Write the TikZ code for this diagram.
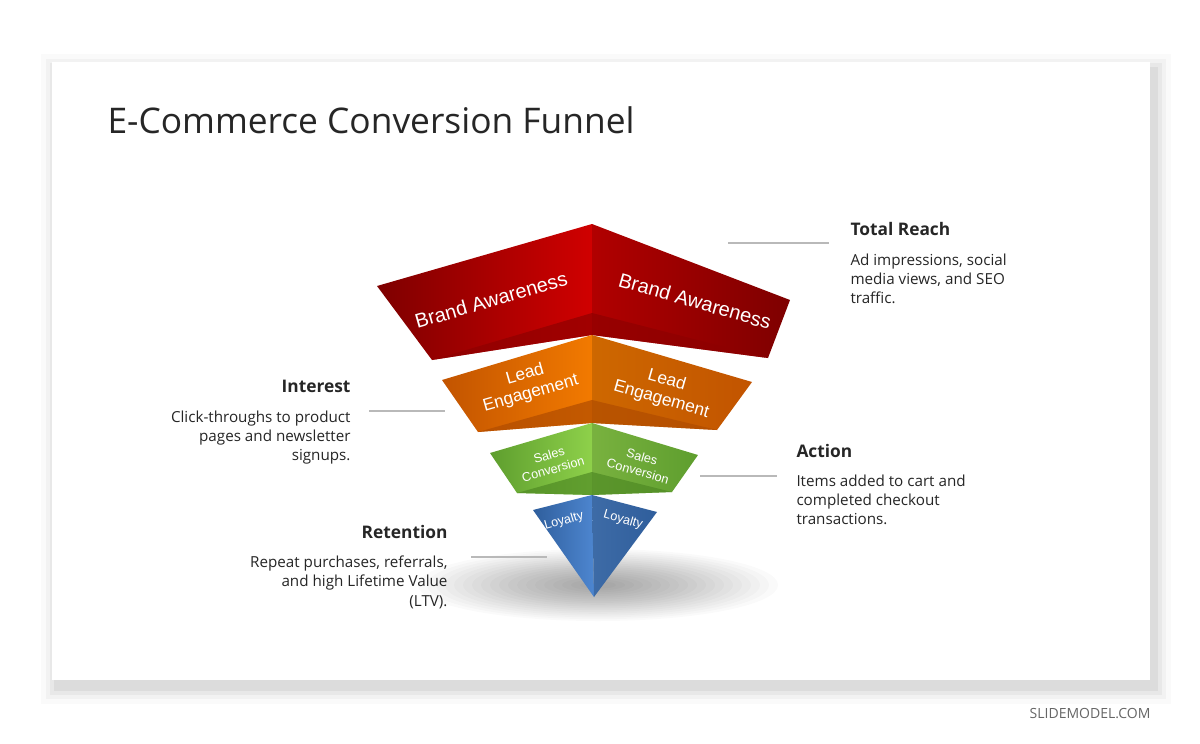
\documentclass[tikz,border=0pt]{standalone}
\usepackage{fontspec}
\setmainfont{Open Sans}
\newfontfamily\arialfont{Liberation Sans}
\usetikzlibrary{positioning}
\definecolor{rA}{HTML}{D00000}\definecolor{rB}{HTML}{7E0000}\definecolor{rS}{HTML}{8E0000}
\definecolor{oA}{HTML}{F27A00}\definecolor{oB}{HTML}{C25400}\definecolor{oS}{HTML}{B04C00}
\definecolor{gA}{HTML}{8ED14A}\definecolor{gB}{HTML}{5E9E2E}\definecolor{gS}{HTML}{4F8A24}
\definecolor{bA}{HTML}{4D86D0}\definecolor{bB}{HTML}{2F5E9C}
\definecolor{txt}{HTML}{262626}
\tikzset{every picture/.style={line width=0.75pt}}
\tikzset{
  lbl/.style={font=\arialfont, text=white, align=center, inner sep=0pt},
  head/.style={font=\fontsize{13}{16}\selectfont\bfseries, text=txt, inner sep=0pt},
  body/.style={font=\fontsize{11.4}{14.6}\selectfont, text=txt, inner sep=0pt},
  lead/.style={draw=gray!55, line width=1.5pt}
}
\begin{document}
\begin{tikzpicture}[x=0.75pt,y=0.75pt,yscale=-1]
\useasboundingbox (0,0) rectangle (1200,743);
\fill[white] (0,0) rectangle (1200,743);
%card with shadow
\foreach \d/\o in {16/0.02,11/0.03,7/0.04,3/0.05}{
  \fill[black,opacity=\o] (52-\d+5,62-\d+8) rectangle (1150+\d+5,680+\d+8);}
\fill[white] (52,62) rectangle (1150,680);
%title
\node[anchor=base west, font=\fontsize{26.5}{32}\selectfont, text=txt, inner sep=0pt] (title) at (107,133) {E-Commerce Conversion Funnel};
%shadow under funnel
\foreach \r in {120,114,...,12}{
  \fill[black,opacity=0.018] (598,585) ellipse ({\r*1.5} and {\r*0.3});}
%red tier
\shade[left color=rB, right color=rA] (377,286) -- (592,224) -- (592,335) -- (432,360) -- cycle;
\shade[left color=rA!85!black, right color=rB] (592,224) -- (790,300) -- (768,358) -- (592,335) -- cycle;
\fill[rS,opacity=0.7] (432,360) -- (592,313) -- (592,335) -- cycle;
\fill[rS,opacity=0.7] (768,358) -- (592,313) -- (592,335) -- cycle;
%orange tier
\shade[left color=oB, right color=oA] (442,380) -- (592,335) -- (592,423) -- (478,432) -- cycle;
\shade[left color=oA!85!black, right color=oB] (592,335) -- (752,382) -- (717,430) -- (592,423) -- cycle;
\fill[oS,opacity=0.7] (478,432) -- (592,400) -- (592,423) -- cycle;
\fill[oS,opacity=0.7] (717,430) -- (592,400) -- (592,423) -- cycle;
%green tier
\shade[left color=gB, right color=gA] (490,453) -- (592,423) -- (592,495) -- (517,493) -- cycle;
\shade[left color=gA!85!black, right color=gB] (592,423) -- (698,455) -- (672,492) -- (592,495) -- cycle;
\fill[gS,opacity=0.7] (517,493) -- (592,472) -- (592,495) -- cycle;
\fill[gS,opacity=0.7] (672,492) -- (592,472) -- (592,495) -- cycle;
%blue tier
\shade[left color=bB, right color=bA] (533,510) -- (592,495) -- (594,597) -- cycle;
\shade[left color=bA!80!black, right color=bB] (592,495) -- (657,512) -- (594,597) -- cycle;
%tier labels
\node[lbl, rotate=16, font=\arialfont\fontsize{15}{17}\selectfont] (redL) at (491,300) {Brand Awareness};
\node[lbl, rotate=-16, font=\arialfont\fontsize{15}{17}\selectfont] (redR) at (695,301) {Brand Awareness};
\node[lbl, rotate=16, font=\arialfont\fontsize{13}{15}\selectfont] (oraL) at (528,384) {Lead\\Engagement};
\node[lbl, rotate=-16, font=\arialfont\fontsize{13}{15}\selectfont] (oraR) at (664,390) {Lead\\Engagement};
\node[lbl, rotate=16, font=\arialfont\fontsize{9.5}{11}\selectfont] (grnL) at (551,462) {Sales\\Conversion};
\node[lbl, rotate=-16, font=\arialfont\fontsize{9.5}{11}\selectfont] (grnR) at (640,464) {Sales\\Conversion};
\node[lbl, rotate=16, font=\arialfont\fontsize{9.5}{11}\selectfont] (bluL) at (564,521) {Loyalty};
\node[lbl, rotate=-16, font=\arialfont\fontsize{9.5}{11}\selectfont] (bluR) at (623,520) {Loyalty};
%callouts
\coordinate (reachA) at (728,243); \coordinate (reachB) at (829,243);
\coordinate (intA) at (369,411); \coordinate (intB) at (445,411);
\coordinate (actA) at (700,476); \coordinate (actB) at (777,476);
\coordinate (retA) at (471,557); \coordinate (retB) at (547,557);
\draw[lead] (reachA) -- (reachB);
\draw[lead] (intA) -- (intB);
\draw[lead] (actA) -- (actB);
\draw[lead] (retA) -- (retB);
\node[head, anchor=base west] (reach) at (850,235) {Total Reach};
\node[body, anchor=north west, align=left] (reachTxt) at (850,253) {Ad impressions, social\\media views, and SEO\\traffic.};
\node[head, anchor=base east] (interest) at (351,392) {Interest};
\node[body, anchor=north east, align=right] (interestTxt) at (351,410) {Click-throughs to product\\pages and newsletter\\signups.};
\node[head, anchor=base west] (action) at (796,457) {Action};
\node[body, anchor=north west, align=left] (actionTxt) at (796,474) {Items added to cart and\\completed checkout\\transactions.};
\node[head, anchor=base east] (retention) at (448,538) {Retention};
\node[body, anchor=north east, align=right] (retentionTxt) at (448,555) {Repeat purchases, referrals,\\and high Lifetime Value\\(LTV).};
\node[font=\fontsize{10.5}{12}\selectfont, text=gray!80!black, anchor=base east, inner sep=0pt] (brand) at (1151,718) {SLIDEMODEL.COM};
\end{tikzpicture}
\end{document}
